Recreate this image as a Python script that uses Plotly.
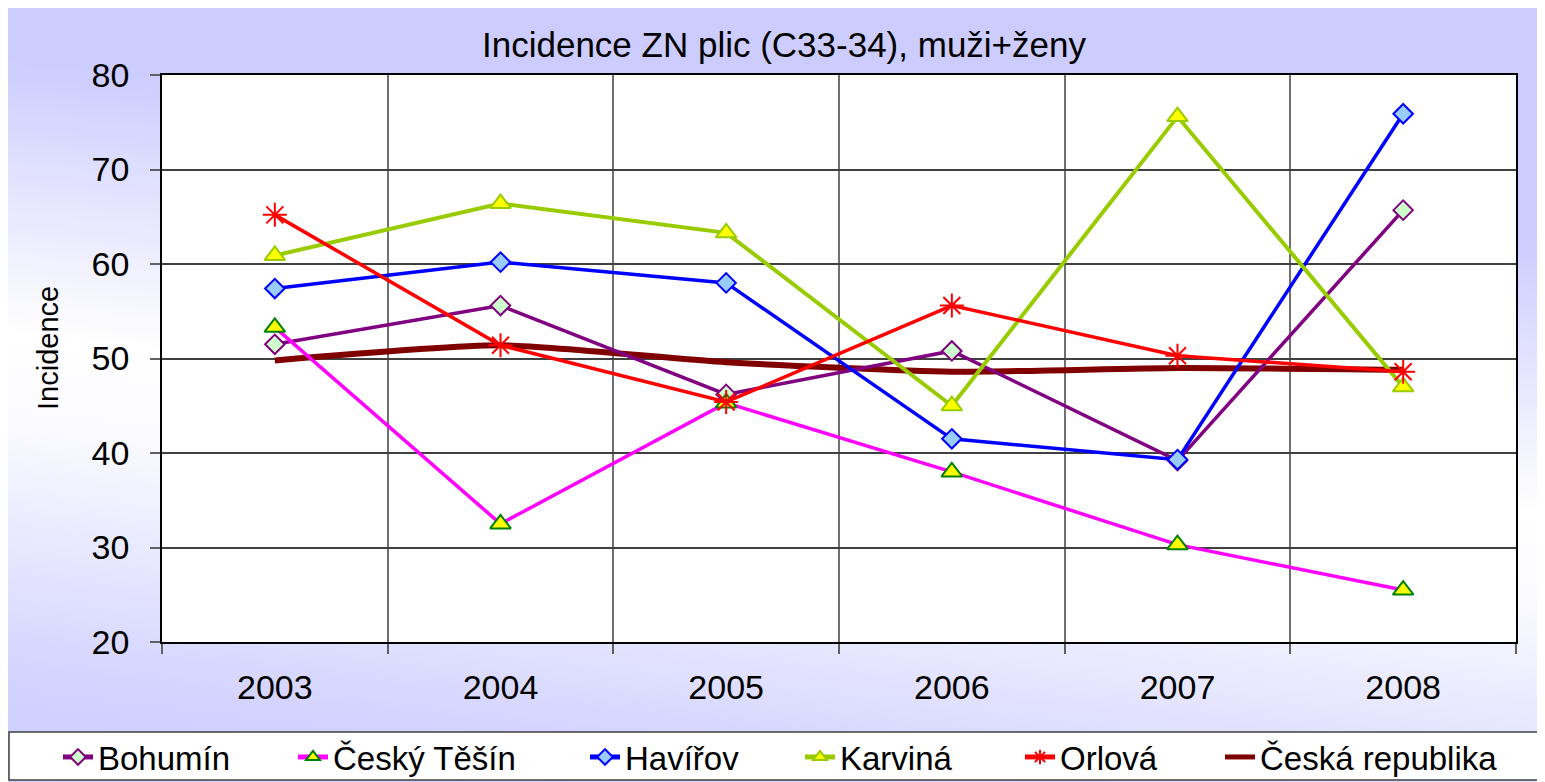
import base64
import plotly.graph_objects as go

# ---------------- data ----------------
years = ["2003", "2004", "2005", "2006", "2007", "2008"]
bohumin = [51.5, 55.6, 46.2, 50.8, 39.2, 65.7]
cesky_tesin = [53.3, 32.5, 45.3, 38.0, 30.3, 25.5]
havirov = [57.4, 60.2, 58.0, 41.5, 39.3, 75.9]
karvina = [60.9, 66.4, 63.3, 45.0, 75.6, 47.0]
orlova = [65.2, 51.4, 45.4, 55.6, 50.3, 48.6]
cr = [49.8, 51.4, 49.6, 48.6, 49.0, 48.8]
y_ticks = [20, 30, 40, 50, 60, 70, 80]

TITLE = "Incidence ZN plic (C33-34), muži+ženy"
YTITLE = "Incidence"

# ---------------- geometry (page pixels; page body has 8px margin) ----------------
OFF = 8
PAGE_W, PAGE_H = 1545, 782
W, H = PAGE_W - OFF, PAGE_H - OFF
PL, PR, PT, PB = 162, 1516, 75, 642          # plot area in page pixels
PW, PH = PR - PL, PB - PT


def px_x(px):
    return (px - PL) / PW


def px_y(py):
    return (PB - py) / PH


FONT = "Liberation Sans, Arial, sans-serif"

fig = go.Figure()

# Česká republika drawn first (beneath others) but listed last in legend
fig.add_trace(go.Scatter(
    x=years, y=cr, name="Česká republika", mode="lines",
    line=dict(color="#800000", width=6, shape="spline", smoothing=0.6),
    legendrank=1006, legendwidth=250,
))
fig.add_trace(go.Scatter(
    x=years, y=bohumin, name="Bohumín", mode="lines+markers",
    line=dict(color="#800080", width=3.5),
    marker=dict(symbol="diamond", size=15, color="#ccffcc",
                line=dict(color="#800080", width=2)),
    legendrank=1001, legendwidth=190,
))
fig.add_trace(go.Scatter(
    x=years, y=cesky_tesin, name="Český Těšín", mode="lines+markers",
    line=dict(color="#ff00ff", width=3.5),
    marker=dict(symbol="triangle-up", size=18, color="#ffff00",
                line=dict(color="#008000", width=2)),
    legendrank=1002, legendwidth=247,
))
fig.add_trace(go.Scatter(
    x=years, y=havirov, name="Havířov", mode="lines+markers",
    line=dict(color="#0000ff", width=3.5),
    marker=dict(symbol="diamond", size=15, color="#99ccff",
                line=dict(color="#0000ff", width=2)),
    legendrank=1003, legendwidth=170,
))
fig.add_trace(go.Scatter(
    x=years, y=karvina, name="Karviná", mode="lines+markers",
    line=dict(color="#99cc00", width=4),
    marker=dict(symbol="triangle-up", size=18, color="#ffff00",
                line=dict(color="#99cc00", width=2)),
    legendrank=1004, legendwidth=175,
))
fig.add_trace(go.Scatter(
    x=years, y=orlova, name="Orlová", mode="lines+markers",
    line=dict(color="#ff0000", width=3.5),
    marker=dict(symbol="asterisk-open", size=20,
                line=dict(color="#ff0000", width=2)),
    legendrank=1005, legendwidth=155,
))

# ---------------- background gradient (svg image, page coords) ----------------
svg = f'''<svg xmlns="http://www.w3.org/2000/svg" width="{W}" height="{H}" viewBox="{OFF} {OFF} {W} {H}" preserveAspectRatio="none">
<defs><linearGradient id="g" gradientUnits="userSpaceOnUse" x1="1545" y1="7" x2="1435" y2="949">
<stop offset="0" stop-color="#ccccff"/>
<stop offset="0.24" stop-color="#ccccff"/>
<stop offset="0.53" stop-color="#ffffff"/>
<stop offset="0.62" stop-color="#fbfbff"/>
<stop offset="0.88" stop-color="#d4d4ff"/>
<stop offset="1" stop-color="#ccccff"/>
</linearGradient></defs>
<rect x="{OFF}" y="{OFF}" width="{W}" height="{H}" fill="url(#g)"/>
</svg>'''
src = "data:image/svg+xml;base64," + base64.b64encode(svg.encode()).decode()

fig.add_layout_image(dict(
    source=src, xref="paper", yref="paper",
    x=px_x(OFF), y=px_y(OFF), sizex=W / PW, sizey=H / PH,
    xanchor="left", yanchor="top", sizing="stretch", layer="below",
))

# white plot area
fig.add_shape(type="rect", xref="paper", yref="paper", x0=0, x1=1, y0=0, y1=1,
              fillcolor="white", line=dict(width=0), layer="below")
# legend box
fig.add_shape(type="rect", xref="paper", yref="paper",
              x0=px_x(9), x1=px_x(1543), y0=px_y(732), y1=px_y(780),
              fillcolor="white", line=dict(color="#404040", width=1.5), layer="below")

fig.add_annotation(text=YTITLE, xref="paper", yref="paper",
                   x=px_x(48), y=px_y(348), textangle=-90, showarrow=False,
                   xanchor="center", yanchor="middle",
                   font=dict(family=FONT, size=29, color="black"))

fig.update_layout(
    width=W, height=H,
    margin=dict(l=PL - OFF, r=PAGE_W - PR, t=PT - OFF, b=PAGE_H - PB, autoexpand=False),
    paper_bgcolor="white", plot_bgcolor="white",
    font=dict(family=FONT, color="black"),
    title=dict(text=TITLE, xref="paper", x=px_x(784), xanchor="center",
               yref="container", y=1 - (45 - OFF) / H, yanchor="middle",
               font=dict(family=FONT, size=35, color="black")),
    showlegend=True,
    legend=dict(orientation="h", xref="paper", yref="paper",
                x=px_x(58), xanchor="left", y=px_y(757), yanchor="middle",
                bgcolor="rgba(0,0,0,0)", borderwidth=0,
                font=dict(family=FONT, size=33, color="black"),
                itemsizing="constant", traceorder="normal"),
    xaxis=dict(type="category", categoryorder="array", categoryarray=years,
               range=[-0.5, len(years) - 0.5], autorange=False,
               tickson="boundaries", ticks="outside", ticklen=10, tickwidth=1.5,
               tickcolor="#606060", showgrid=True, gridcolor="#707070", gridwidth=1.5,
               showline=True, linecolor="black", linewidth=1.5, mirror=True,
               tickfont=dict(family=FONT, size=34, color="black"),
               ticklabelstandoff=14),
    yaxis=dict(range=[20, 80], tickvals=y_ticks, ticks="outside", ticklen=10,
               tickwidth=1.5, tickcolor="#606060", showgrid=True,
               gridcolor="#404040", gridwidth=1.5, zeroline=False,
               showline=True, linecolor="black", linewidth=1.5, mirror=True,
               tickfont=dict(family=FONT, size=34, color="black"),
               ticklabelstandoff=14),
)

fig.write_html("out.html")
